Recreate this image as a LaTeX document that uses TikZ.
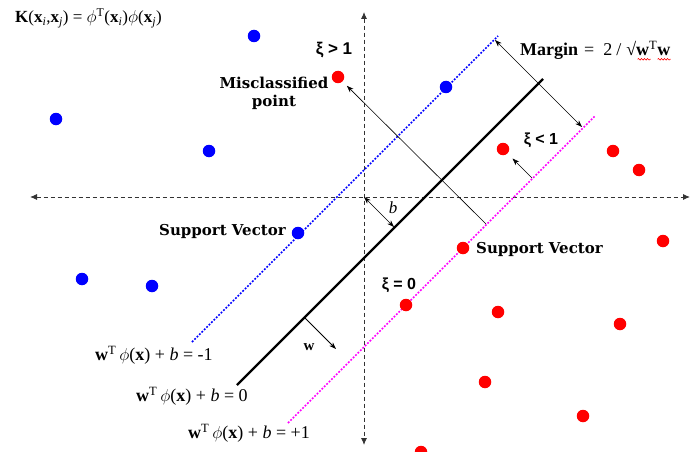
\documentclass[tikz,border=0pt]{standalone}
\usepackage{fontspec}
\setmainfont{Liberation Serif}
\newfontfamily\svfont{DejaVu Serif}
\newfontfamily\xifont{Liberation Sans}
\usetikzlibrary{arrows.meta,positioning,calc,decorations.pathmorphing}
\definecolor{ptred}{HTML}{FF0000}
\definecolor{ptblue}{HTML}{0000FF}
\definecolor{mgn}{HTML}{FF00FF}
\definecolor{axisgray}{HTML}{333333}
\tikzset{
  pt_red/.style={circle,fill=ptred,inner sep=0pt,minimum size=12.5pt},
  pt_blue/.style={circle,fill=ptblue,inner sep=0pt,minimum size=12.5pt},
  axis_ln/.style={{Latex[length=7pt,width=6pt]}-{Latex[length=7pt,width=6pt]},draw=axisgray,line width=0.9pt,dash pattern=on 4pt off 3pt},
  sep_mid/.style={draw=black,line width=2.4pt},
  sep_neg/.style={draw=ptblue,line width=1.7pt,dash pattern=on 1.8pt off 1.6pt},
  sep_pos/.style={draw=mgn,line width=1.7pt,dash pattern=on 1.8pt off 1.6pt},
  arr/.style={-{Stealth[length=7pt,width=5pt]},draw=black,line width=0.6pt},
  arr_both/.style={{Stealth[length=7pt,width=5pt]}-{Stealth[length=7pt,width=5pt]},draw=black,line width=0.6pt},
  lbl_sv/.style={font=\svfont\bfseries\fontsize{15}{18}\selectfont,inner sep=0pt,align=center},
  lbl_eq/.style={font=\fontsize{18}{20}\selectfont,inner sep=0pt,anchor=west},
  lbl_xi/.style={font=\xifont\bfseries\fontsize{16}{18}\selectfont,inner sep=0pt},
  squig/.style={draw=ptred,line width=0.6pt,decorate,decoration={snake,amplitude=0.8pt,segment length=3pt}},
}

\begin{document}
\begin{tikzpicture}[x=1pt,y=-1pt]
    \useasboundingbox (0,0) rectangle (691,452);
    % axes
    \coordinate (o) at (364,197);
    \coordinate (xl) at (30,197);  \coordinate (xr) at (690,197);
    \coordinate (yt) at (364,12);  \coordinate (yb) at (364,445);
    \draw[axis_ln] (xl) -- (xr);
    \draw[axis_ln] (yt) -- (yb);
    % hyperplanes
    \coordinate (neg_a) at (192,342); \coordinate (neg_b) at (498,36);
    \coordinate (mid_a) at (237,385); \coordinate (mid_b) at (543,79);
    \coordinate (pos_a) at (288,423); \coordinate (pos_b) at (595,116);
    \draw[sep_neg] (neg_a) -- (neg_b);
    \draw[sep_pos] (pos_a) -- (pos_b);
    \draw[sep_mid] (mid_a) -- (mid_b);
    % points
    \foreach \px/\py/\nm in {254/36/b1,56/119/b2,209/151/b3,446/87/b4,298/233/b_sv,82/279/b5,152/286/b6}
      \node[pt_blue] (\nm) at (\px,\py) {};
    \foreach \px/\py/\nm in {338/77/r_mis,503/149/r_in,613/151/r1,639/170/r2,663/241/r3,463/248/r_sv,406/305/r_on,498/312/r4,620/324/r5,485/382/r6,583/416/r7,421/452/r8}
      \node[pt_red] (\nm) at (\px,\py) {};
    % labels
    \node[lbl_eq,font=\fontsize{17}{19}\selectfont] (kern) at (15,18) {\textbf{K}(\textbf{x}\textsubscript{\textit{i}},\textbf{x}\textsubscript{\textit{j}}) = $\phi$\textsuperscript{T}(\textbf{x}\textsubscript{\textit{i}})$\phi$(\textbf{x}\textsubscript{\textit{j}})};
    \node[lbl_xi,font=\bfseries\fontsize{17}{19}\selectfont] (xi_gt) at (334,50) {\xifont ξ > 1};
    \node[lbl_eq] (margin) at (520,50) {\textbf{Margin}\hspace{6pt}=\hspace{9pt}2\hspace{4pt}/\hspace{5pt}√\textbf{w}\textsuperscript{T}\textbf{w}};
    \node[lbl_sv] (mis_lbl) at (274,93) {Misclassified\\point};
    \node[lbl_xi] (xi_lt) at (541,140) {ξ < 1};
    \node[lbl_sv,anchor=west] (sv_l) at (159,231) {Support Vector};
    \node[lbl_sv,anchor=west] (sv_r) at (476,249) {Support Vector};
    \node[lbl_eq,anchor=center,font=\fontsize{17}{19}\selectfont\itshape] (b_lbl) at (393,208) {b};
    \node[lbl_xi] (xi_eq) at (399,285) {ξ = 0};
    \node[lbl_eq,anchor=center,font=\fontsize{15}{17}\selectfont\bfseries] (w_lbl) at (309,347) {w};
    \node[lbl_eq] (eq_neg) at (95,355) {\textbf{w}\textsuperscript{T}\,$\phi$(\textbf{x}) + \textit{b} = -1};
    \node[lbl_eq] (eq_mid) at (136,396) {\textbf{w}\textsuperscript{T}\,$\phi$(\textbf{x}) + \textit{b} = 0};
    \node[lbl_eq] (eq_pos) at (188,433) {\textbf{w}\textsuperscript{T}\,$\phi$(\textbf{x}) + \textit{b} = +1};
    \draw[squig] ($(margin.base east)+(-33,4)$) -- ++(13,0);
    \draw[squig] ($(margin.base east)+(-13,4)$) -- ++(13,0);
    % arrows
    \coordinate (mg_a) at (495,40); \coordinate (mg_b) at (582,127);
    \draw[arr_both] (mg_a) -- (mg_b);
    \coordinate (mis_foot) at (486,224);
    \draw[arr,shorten >=6pt] (mis_foot) -- (r_mis);
    \coordinate (in_foot) at (532,178);
    \draw[arr,shorten >=7pt] (in_foot) -- (r_in);
    \coordinate (b_foot) at (394,227);
    \draw[arr_both] (o) -- (b_foot);
    \coordinate (w_foot) at (305,318); \coordinate (w_tip) at (336,349);
    \draw[arr,line width=0.8pt] (w_foot) -- (w_tip);
  \end{tikzpicture}
\end{document}
